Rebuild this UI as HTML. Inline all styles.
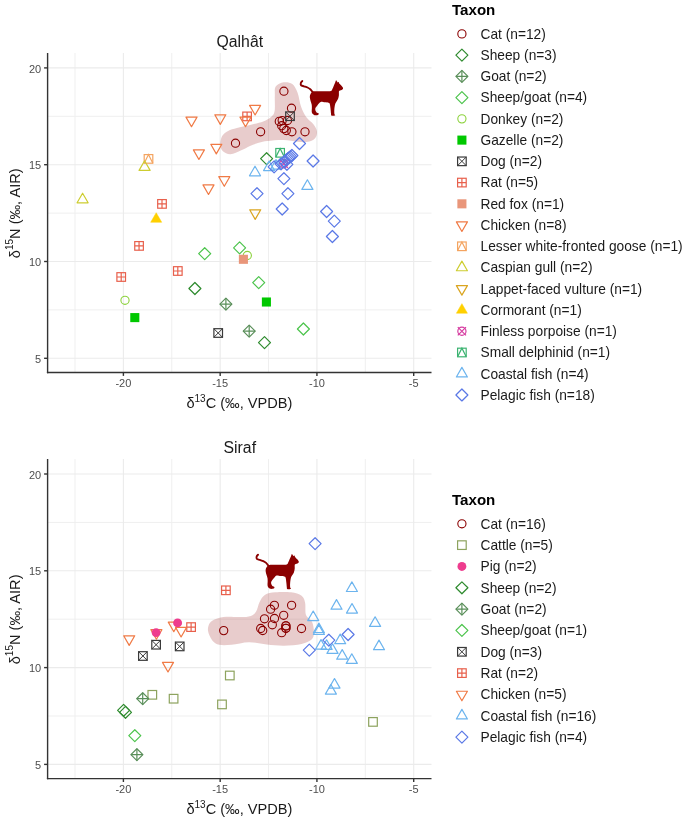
<!DOCTYPE html>
<html><head><meta charset="utf-8"><style>
html,body{margin:0;padding:0;background:#fff;}
svg{display:block;will-change:transform;}
text{font-family:"Liberation Sans",sans-serif;}
.tick{font-size:11px;fill:#4D4D4D;}
.ttl{font-size:15.8px;fill:#1A1A1A;}
.axt{font-size:14.6px;fill:#1A1A1A;}
.sup{font-size:10px;}
.lt{font-size:15.1px;font-weight:bold;fill:#000;}
.lx{font-size:13.75px;fill:#1A1A1A;}
</style></head><body>
<svg width="685" height="820" viewBox="0 0 685 820">
<line x1="75.02" y1="53.00" x2="75.02" y2="372.50" stroke="#EFEFEF" stroke-width="1"/>
<line x1="171.78" y1="53.00" x2="171.78" y2="372.50" stroke="#EFEFEF" stroke-width="1"/>
<line x1="268.55" y1="53.00" x2="268.55" y2="372.50" stroke="#EFEFEF" stroke-width="1"/>
<line x1="365.31" y1="53.00" x2="365.31" y2="372.50" stroke="#EFEFEF" stroke-width="1"/>
<line x1="47.60" y1="309.90" x2="431.50" y2="309.90" stroke="#EFEFEF" stroke-width="1"/>
<line x1="47.60" y1="213.10" x2="431.50" y2="213.10" stroke="#EFEFEF" stroke-width="1"/>
<line x1="47.60" y1="116.30" x2="431.50" y2="116.30" stroke="#EFEFEF" stroke-width="1"/>
<line x1="123.40" y1="53.00" x2="123.40" y2="372.50" stroke="#EBEBEB" stroke-width="1.1"/>
<line x1="220.17" y1="53.00" x2="220.17" y2="372.50" stroke="#EBEBEB" stroke-width="1.1"/>
<line x1="316.93" y1="53.00" x2="316.93" y2="372.50" stroke="#EBEBEB" stroke-width="1.1"/>
<line x1="413.70" y1="53.00" x2="413.70" y2="372.50" stroke="#EBEBEB" stroke-width="1.1"/>
<line x1="47.60" y1="358.30" x2="431.50" y2="358.30" stroke="#EBEBEB" stroke-width="1.1"/>
<line x1="47.60" y1="261.50" x2="431.50" y2="261.50" stroke="#EBEBEB" stroke-width="1.1"/>
<line x1="47.60" y1="164.70" x2="431.50" y2="164.70" stroke="#EBEBEB" stroke-width="1.1"/>
<line x1="47.60" y1="67.90" x2="431.50" y2="67.90" stroke="#EBEBEB" stroke-width="1.1"/>
<path d="M283.60 82.30C286.37 81.87 289.97 82.25 292.30 84.00C294.63 85.75 296.13 89.00 297.60 92.80C299.07 96.60 299.63 102.72 301.10 106.80C302.57 110.88 304.35 114.38 306.40 117.30C308.45 120.22 311.65 121.97 313.40 124.30C315.15 126.63 316.62 128.97 316.90 131.30C317.18 133.63 316.57 136.55 315.10 138.30C313.63 140.05 311.02 141.22 308.10 141.80C305.18 142.38 301.68 142.08 297.60 141.80C293.52 141.52 288.62 140.22 283.60 140.10C278.58 139.98 271.63 140.65 267.50 141.10C263.37 141.55 261.72 142.00 258.80 142.80C255.88 143.60 252.92 144.65 250.00 145.90C247.08 147.15 244.55 148.92 241.30 150.30C238.05 151.68 233.57 154.05 230.50 154.20C227.43 154.35 224.58 152.73 222.90 151.20C221.22 149.67 220.55 147.48 220.40 145.00C220.25 142.52 220.72 138.63 222.00 136.30C223.28 133.97 225.62 132.38 228.10 131.00C230.58 129.62 233.25 129.02 236.90 128.00C240.55 126.98 245.62 126.00 250.00 124.90C254.38 123.80 259.70 122.72 263.20 121.40C266.70 120.08 269.10 118.73 271.00 117.00C272.90 115.27 273.97 114.45 274.60 111.00C275.23 107.55 274.62 100.37 274.80 96.30C274.98 92.23 274.23 88.93 275.70 86.60C277.17 84.27 280.83 82.73 283.60 82.30Z" fill="#8B0000" fill-opacity="0.2"/>
<path d="M312.07 92.07C312.65 91.54 312.83 91.51 313.82 91.37C314.81 91.23 316.15 91.25 318.02 91.23C319.89 91.20 322.87 91.28 325.03 91.23C327.19 91.17 329.76 91.26 330.99 90.88C332.21 90.49 331.92 89.77 332.39 88.91C332.86 88.06 333.32 86.81 333.79 85.76C334.26 84.71 334.81 83.51 335.19 82.61C335.58 81.71 335.79 80.54 336.10 80.36C336.42 80.19 336.80 81.20 337.08 81.56C337.36 81.91 337.49 82.41 337.78 82.47C338.08 82.52 338.59 81.74 338.84 81.91C339.08 82.07 339.01 83.00 339.26 83.45C339.50 83.89 339.90 84.15 340.31 84.57C340.72 84.99 341.31 85.50 341.71 85.97C342.11 86.44 342.47 86.96 342.69 87.37C342.91 87.78 343.09 88.07 343.04 88.42C342.99 88.77 342.78 89.18 342.41 89.47C342.04 89.77 341.30 89.98 340.80 90.17C340.30 90.37 339.71 90.41 339.40 90.67C339.08 90.92 338.99 90.96 338.91 91.72C338.82 92.48 339.06 93.99 338.91 95.22C338.75 96.45 338.44 97.96 338.00 99.07C337.55 100.18 336.71 101.06 336.24 101.88C335.78 102.69 335.48 102.99 335.19 103.98C334.90 104.97 334.64 106.49 334.49 107.83C334.34 109.18 334.28 110.99 334.28 112.04C334.28 113.09 334.34 113.62 334.49 114.14C334.64 114.67 335.37 114.94 335.19 115.19C335.02 115.45 334.08 115.65 333.44 115.68C332.80 115.72 331.75 115.78 331.34 115.40C330.93 115.03 331.13 114.58 330.99 113.44C330.85 112.30 330.70 110.11 330.50 108.53C330.30 106.96 330.12 104.94 329.80 103.98C329.47 103.02 329.33 103.06 328.53 102.79C327.74 102.52 326.32 102.52 325.03 102.37C323.75 102.22 321.82 101.73 320.83 101.88C319.83 102.03 319.66 102.69 319.07 103.28C318.49 103.86 317.91 104.62 317.32 105.38C316.74 106.14 315.90 107.07 315.57 107.83C315.24 108.59 315.19 109.18 315.36 109.94C315.54 110.70 316.12 111.86 316.62 112.39C317.12 112.91 318.05 112.74 318.37 113.09C318.70 113.44 318.82 114.14 318.58 114.49C318.35 114.84 317.65 115.08 316.97 115.19C316.29 115.31 315.26 115.43 314.52 115.19C313.78 114.96 313.02 114.37 312.56 113.79C312.09 113.21 311.83 112.62 311.72 111.69C311.60 110.75 311.86 109.35 311.86 108.18C311.86 107.02 311.91 105.85 311.72 104.68C311.52 103.51 310.98 102.40 310.67 101.18C310.35 99.95 309.88 98.43 309.82 97.32C309.77 96.21 309.94 95.40 310.31 94.52C310.69 93.64 311.48 92.59 312.07 92.07Z" fill="#8B0000"/>
<path d="M302.26 81.06C302.02 81.38 301.05 82.26 300.85 82.96C300.66 83.66 300.54 84.71 301.06 85.27C301.59 85.83 302.93 85.95 304.01 86.32C305.08 86.69 306.46 87.02 307.51 87.51C308.56 88.00 309.56 88.62 310.31 89.26C311.07 89.91 311.58 90.67 312.07 91.37C312.56 92.07 313.06 93.12 313.26 93.47" fill="none" stroke="#8B0000" stroke-width="1.9" stroke-linecap="round"/>
<circle cx="283.90" cy="91.20" r="4.10" fill="none" stroke="#8B0000" stroke-width="1.1"/>
<circle cx="291.50" cy="108.20" r="4.10" fill="none" stroke="#8B0000" stroke-width="1.1"/>
<circle cx="260.60" cy="131.80" r="4.10" fill="none" stroke="#8B0000" stroke-width="1.1"/>
<circle cx="235.50" cy="143.20" r="4.10" fill="none" stroke="#8B0000" stroke-width="1.1"/>
<circle cx="305.00" cy="131.80" r="4.10" fill="none" stroke="#8B0000" stroke-width="1.1"/>
<circle cx="291.90" cy="131.80" r="4.10" fill="none" stroke="#8B0000" stroke-width="1.1"/>
<circle cx="279.30" cy="121.40" r="4.10" fill="none" stroke="#8B0000" stroke-width="1.1"/>
<circle cx="282.20" cy="120.60" r="4.10" fill="none" stroke="#8B0000" stroke-width="1.1"/>
<circle cx="287.50" cy="120.50" r="4.10" fill="none" stroke="#8B0000" stroke-width="1.1"/>
<circle cx="281.70" cy="125.70" r="4.10" fill="none" stroke="#8B0000" stroke-width="1.1"/>
<circle cx="283.80" cy="128.60" r="4.10" fill="none" stroke="#8B0000" stroke-width="1.1"/>
<circle cx="286.30" cy="130.50" r="4.10" fill="none" stroke="#8B0000" stroke-width="1.1"/>
<path d="M194.90 282.51L200.89 288.50L194.90 294.49L188.91 288.50Z" fill="none" stroke="#2E8B2E" stroke-width="1.2" stroke-linejoin="round"/>
<path d="M266.60 152.71L272.59 158.70L266.60 164.69L260.61 158.70Z" fill="none" stroke="#2E8B2E" stroke-width="1.2" stroke-linejoin="round"/>
<path d="M264.50 336.61L270.49 342.60L264.50 348.59L258.51 342.60Z" fill="none" stroke="#2E8B2E" stroke-width="1.2" stroke-linejoin="round"/>
<path d="M225.90 298.11L231.89 304.10L225.90 310.09L219.91 304.10Z" fill="none" stroke="#5A8F5A" stroke-width="1.2" stroke-linejoin="round"/><path d="M225.90 298.11V310.09M219.91 304.10H231.89" fill="none" stroke="#5A8F5A" stroke-width="1.2"/>
<path d="M249.20 325.11L255.19 331.10L249.20 337.09L243.21 331.10Z" fill="none" stroke="#5A8F5A" stroke-width="1.2" stroke-linejoin="round"/><path d="M249.20 325.11V337.09M243.21 331.10H255.19" fill="none" stroke="#5A8F5A" stroke-width="1.2"/>
<path d="M204.70 247.71L210.69 253.70L204.70 259.69L198.71 253.70Z" fill="none" stroke="#4CC44C" stroke-width="1.2" stroke-linejoin="round"/>
<path d="M239.60 241.91L245.59 247.90L239.60 253.89L233.61 247.90Z" fill="none" stroke="#4CC44C" stroke-width="1.2" stroke-linejoin="round"/>
<path d="M258.70 276.61L264.69 282.60L258.70 288.59L252.71 282.60Z" fill="none" stroke="#4CC44C" stroke-width="1.2" stroke-linejoin="round"/>
<path d="M303.40 323.01L309.39 329.00L303.40 334.99L297.41 329.00Z" fill="none" stroke="#4CC44C" stroke-width="1.2" stroke-linejoin="round"/>
<circle cx="125.00" cy="300.30" r="4.10" fill="none" stroke="#8CD23C" stroke-width="1.1"/>
<circle cx="247.30" cy="255.50" r="4.10" fill="none" stroke="#8CD23C" stroke-width="1.1"/>
<rect x="130.27" y="313.07" width="9.07" height="9.07" fill="#00C800"/>
<rect x="261.87" y="297.47" width="9.07" height="9.07" fill="#00C800"/>
<rect x="213.89" y="328.69" width="8.61" height="8.61" fill="none" stroke="#3A3A3A" stroke-width="1.2"/><path d="M213.89 328.69L222.50 337.31M222.50 328.69L213.89 337.31" fill="none" stroke="#3A3A3A" stroke-width="1.0"/>
<rect x="285.69" y="111.90" width="8.61" height="8.61" fill="none" stroke="#3A3A3A" stroke-width="1.2"/><path d="M285.69 111.90L294.31 120.50M294.31 111.90L285.69 120.50" fill="none" stroke="#3A3A3A" stroke-width="1.0"/>
<rect x="157.69" y="199.59" width="8.61" height="8.61" fill="none" stroke="#E8604C" stroke-width="1.2"/><path d="M162.00 199.59V208.21M157.69 203.90H166.31" fill="none" stroke="#E8604C" stroke-width="1.2"/>
<rect x="134.75" y="241.59" width="8.61" height="8.61" fill="none" stroke="#E8604C" stroke-width="1.2"/><path d="M139.05 241.59V250.21M134.75 245.90H143.36" fill="none" stroke="#E8604C" stroke-width="1.2"/>
<rect x="116.90" y="272.69" width="8.61" height="8.61" fill="none" stroke="#E8604C" stroke-width="1.2"/><path d="M121.20 272.69V281.31M116.90 277.00H125.50" fill="none" stroke="#E8604C" stroke-width="1.2"/>
<rect x="173.50" y="266.69" width="8.61" height="8.61" fill="none" stroke="#E8604C" stroke-width="1.2"/><path d="M177.80 266.69V275.31M173.50 271.00H182.11" fill="none" stroke="#E8604C" stroke-width="1.2"/>
<rect x="242.79" y="112.09" width="8.61" height="8.61" fill="none" stroke="#E8604C" stroke-width="1.2"/><path d="M247.10 112.09V120.71M242.79 116.40H251.41" fill="none" stroke="#E8604C" stroke-width="1.2"/>
<rect x="238.87" y="254.77" width="9.07" height="9.07" fill="#E9967A"/>
<path d="M191.50 126.68L197.02 117.11L185.98 117.11Z" fill="none" stroke="#F07A45" stroke-width="1.2" stroke-linejoin="round"/>
<path d="M220.30 124.38L225.82 114.81L214.78 114.81Z" fill="none" stroke="#F07A45" stroke-width="1.2" stroke-linejoin="round"/>
<path d="M255.10 114.98L260.62 105.41L249.58 105.41Z" fill="none" stroke="#F07A45" stroke-width="1.2" stroke-linejoin="round"/>
<path d="M245.50 126.68L251.02 117.11L239.98 117.11Z" fill="none" stroke="#F07A45" stroke-width="1.2" stroke-linejoin="round"/>
<path d="M216.30 153.88L221.82 144.31L210.78 144.31Z" fill="none" stroke="#F07A45" stroke-width="1.2" stroke-linejoin="round"/>
<path d="M198.90 159.48L204.42 149.91L193.38 149.91Z" fill="none" stroke="#F07A45" stroke-width="1.2" stroke-linejoin="round"/>
<path d="M224.30 186.28L229.82 176.71L218.78 176.71Z" fill="none" stroke="#F07A45" stroke-width="1.2" stroke-linejoin="round"/>
<path d="M208.50 194.48L214.02 184.91L202.98 184.91Z" fill="none" stroke="#F07A45" stroke-width="1.2" stroke-linejoin="round"/>
<rect x="144.19" y="154.59" width="8.61" height="8.61" fill="none" stroke="#F4A460" stroke-width="1.2"/><path d="M144.19 163.21L148.50 154.59L152.81 163.21" fill="none" stroke="#F4A460" stroke-width="1.2"/>
<path d="M82.60 193.22L88.12 202.79L77.08 202.79Z" fill="none" stroke="#CDCD30" stroke-width="1.2" stroke-linejoin="round"/>
<path d="M144.60 160.82L150.12 170.39L139.08 170.39Z" fill="none" stroke="#CDCD30" stroke-width="1.2" stroke-linejoin="round"/>
<path d="M255.20 219.38L260.72 209.81L249.68 209.81Z" fill="none" stroke="#DAA520" stroke-width="1.2" stroke-linejoin="round"/>
<path d="M156.20 212.72L161.72 222.29L150.68 222.29Z" fill="#FFD000" stroke="#FFD000" stroke-width="0.5" stroke-linejoin="round"/>
<rect x="275.80" y="148.50" width="8.61" height="8.61" fill="none" stroke="#3CB371" stroke-width="1.2"/><path d="M275.80 157.11L280.10 148.50L284.41 157.11" fill="none" stroke="#3CB371" stroke-width="1.2"/>
<circle cx="283.70" cy="163.70" r="4.10" fill="none" stroke="#D63CA0" stroke-width="1.2"/><path d="M279.60 159.60L287.80 167.80M287.80 159.60L279.60 167.80" fill="none" stroke="#D63CA0" stroke-width="1.2"/>
<path d="M255.00 166.22L260.52 175.79L249.48 175.79Z" fill="none" stroke="#6CB4EE" stroke-width="1.2" stroke-linejoin="round"/>
<path d="M269.10 161.02L274.62 170.59L263.58 170.59Z" fill="none" stroke="#6CB4EE" stroke-width="1.2" stroke-linejoin="round"/>
<path d="M307.40 179.82L312.92 189.39L301.88 189.39Z" fill="none" stroke="#6CB4EE" stroke-width="1.2" stroke-linejoin="round"/>
<path d="M276.00 159.62L281.52 169.19L270.48 169.19Z" fill="none" stroke="#6CB4EE" stroke-width="1.2" stroke-linejoin="round"/>
<path d="M257.00 187.71L262.99 193.70L257.00 199.69L251.01 193.70Z" fill="none" stroke="#5A78E6" stroke-width="1.2" stroke-linejoin="round"/>
<path d="M283.90 172.71L289.89 178.70L283.90 184.69L277.91 178.70Z" fill="none" stroke="#5A78E6" stroke-width="1.2" stroke-linejoin="round"/>
<path d="M282.20 203.01L288.19 209.00L282.20 214.99L276.21 209.00Z" fill="none" stroke="#5A78E6" stroke-width="1.2" stroke-linejoin="round"/>
<path d="M299.50 137.51L305.49 143.50L299.50 149.49L293.51 143.50Z" fill="none" stroke="#5A78E6" stroke-width="1.2" stroke-linejoin="round"/>
<path d="M313.10 155.01L319.09 161.00L313.10 166.99L307.11 161.00Z" fill="none" stroke="#5A78E6" stroke-width="1.2" stroke-linejoin="round"/>
<path d="M287.90 187.71L293.89 193.70L287.90 199.69L281.91 193.70Z" fill="none" stroke="#5A78E6" stroke-width="1.2" stroke-linejoin="round"/>
<path d="M326.60 205.51L332.59 211.50L326.60 217.49L320.61 211.50Z" fill="none" stroke="#5A78E6" stroke-width="1.2" stroke-linejoin="round"/>
<path d="M334.30 215.11L340.29 221.10L334.30 227.09L328.31 221.10Z" fill="none" stroke="#5A78E6" stroke-width="1.2" stroke-linejoin="round"/>
<path d="M332.40 230.51L338.39 236.50L332.40 242.49L326.41 236.50Z" fill="none" stroke="#5A78E6" stroke-width="1.2" stroke-linejoin="round"/>
<path d="M291.90 149.51L297.89 155.50L291.90 161.49L285.91 155.50Z" fill="none" stroke="#5A78E6" stroke-width="1.2" stroke-linejoin="round"/>
<path d="M290.50 150.61L296.49 156.60L290.50 162.59L284.51 156.60Z" fill="none" stroke="#5A78E6" stroke-width="1.2" stroke-linejoin="round"/>
<path d="M289.20 151.61L295.19 157.60L289.20 163.59L283.21 157.60Z" fill="none" stroke="#5A78E6" stroke-width="1.2" stroke-linejoin="round"/>
<path d="M287.90 152.61L293.89 158.60L287.90 164.59L281.91 158.60Z" fill="none" stroke="#5A78E6" stroke-width="1.2" stroke-linejoin="round"/>
<path d="M286.60 153.61L292.59 159.60L286.60 165.59L280.61 159.60Z" fill="none" stroke="#5A78E6" stroke-width="1.2" stroke-linejoin="round"/>
<path d="M284.50 155.51L290.49 161.50L284.50 167.49L278.51 161.50Z" fill="none" stroke="#5A78E6" stroke-width="1.2" stroke-linejoin="round"/>
<path d="M286.90 158.31L292.89 164.30L286.90 170.29L280.91 164.30Z" fill="none" stroke="#5A78E6" stroke-width="1.2" stroke-linejoin="round"/>
<path d="M281.00 157.81L286.99 163.80L281.00 169.79L275.01 163.80Z" fill="none" stroke="#5A78E6" stroke-width="1.2" stroke-linejoin="round"/>
<path d="M274.10 160.91L280.09 166.90L274.10 172.89L268.11 166.90Z" fill="none" stroke="#5A78E6" stroke-width="1.2" stroke-linejoin="round"/>
<line x1="47.60" y1="53.00" x2="47.60" y2="373.20" stroke="#333" stroke-width="1.4"/>
<line x1="46.90" y1="372.50" x2="431.50" y2="372.50" stroke="#333" stroke-width="1.4"/>
<line x1="44.1" y1="358.30" x2="47.60" y2="358.30" stroke="#333" stroke-width="1.4"/>
<text x="41.2" y="362.90" text-anchor="end" class="tick">5</text>
<line x1="44.1" y1="261.50" x2="47.60" y2="261.50" stroke="#333" stroke-width="1.4"/>
<text x="41.2" y="266.10" text-anchor="end" class="tick">10</text>
<line x1="44.1" y1="164.70" x2="47.60" y2="164.70" stroke="#333" stroke-width="1.4"/>
<text x="41.2" y="169.30" text-anchor="end" class="tick">15</text>
<line x1="44.1" y1="67.90" x2="47.60" y2="67.90" stroke="#333" stroke-width="1.4"/>
<text x="41.2" y="72.50" text-anchor="end" class="tick">20</text>
<line x1="123.40" y1="372.50" x2="123.40" y2="375.90" stroke="#333" stroke-width="1.4"/>
<text x="123.40" y="387.10" text-anchor="middle" class="tick">-20</text>
<line x1="220.17" y1="372.50" x2="220.17" y2="375.90" stroke="#333" stroke-width="1.4"/>
<text x="220.17" y="387.10" text-anchor="middle" class="tick">-15</text>
<line x1="316.93" y1="372.50" x2="316.93" y2="375.90" stroke="#333" stroke-width="1.4"/>
<text x="316.93" y="387.10" text-anchor="middle" class="tick">-10</text>
<line x1="413.70" y1="372.50" x2="413.70" y2="375.90" stroke="#333" stroke-width="1.4"/>
<text x="413.70" y="387.10" text-anchor="middle" class="tick">-5</text>
<text x="239.8" y="46.90" text-anchor="middle" class="ttl">Qalh&#226;t</text>
<text x="239.4" y="407.90" text-anchor="middle" class="axt">&#948;<tspan class="sup" dy="-6.2">13</tspan><tspan dy="6.2">C (&#8240;, VPDB)</tspan></text>
<text transform="translate(20.2 213.30) rotate(-90)" text-anchor="middle" class="axt">&#948;<tspan class="sup" dy="-6.8">15</tspan><tspan dy="6.8">N (&#8240;, AIR)</tspan></text>
<text x="452.0" y="15.10" class="lt">Taxon</text>
<circle cx="461.90" cy="33.90" r="4.10" fill="none" stroke="#8B0000" stroke-width="1.1"/>
<text x="480.5" y="38.70" class="lx">Cat (n=12)</text>
<path d="M461.90 49.15L467.89 55.14L461.90 61.13L455.91 55.14Z" fill="none" stroke="#2E8B2E" stroke-width="1.2" stroke-linejoin="round"/>
<text x="480.5" y="59.94" class="lx">Sheep (n=3)</text>
<path d="M461.90 70.39L467.89 76.38L461.90 82.37L455.91 76.38Z" fill="none" stroke="#5A8F5A" stroke-width="1.2" stroke-linejoin="round"/><path d="M461.90 70.39V82.37M455.91 76.38H467.89" fill="none" stroke="#5A8F5A" stroke-width="1.2"/>
<text x="480.5" y="81.18" class="lx">Goat (n=2)</text>
<path d="M461.90 91.63L467.89 97.62L461.90 103.61L455.91 97.62Z" fill="none" stroke="#4CC44C" stroke-width="1.2" stroke-linejoin="round"/>
<text x="480.5" y="102.42" class="lx">Sheep/goat (n=4)</text>
<circle cx="461.90" cy="118.86" r="4.10" fill="none" stroke="#8CD23C" stroke-width="1.1"/>
<text x="480.5" y="123.66" class="lx">Donkey (n=2)</text>
<rect x="457.37" y="135.57" width="9.07" height="9.07" fill="#00C800"/>
<text x="480.5" y="144.90" class="lx">Gazelle (n=2)</text>
<rect x="457.59" y="157.03" width="8.61" height="8.61" fill="none" stroke="#3A3A3A" stroke-width="1.2"/><path d="M457.59 157.03L466.20 165.65M466.20 157.03L457.59 165.65" fill="none" stroke="#3A3A3A" stroke-width="1.0"/>
<text x="480.5" y="166.14" class="lx">Dog (n=2)</text>
<rect x="457.59" y="178.27" width="8.61" height="8.61" fill="none" stroke="#E8604C" stroke-width="1.2"/><path d="M461.90 178.27V186.88M457.59 182.58H466.20" fill="none" stroke="#E8604C" stroke-width="1.2"/>
<text x="480.5" y="187.38" class="lx">Rat (n=5)</text>
<rect x="457.37" y="199.29" width="9.07" height="9.07" fill="#E9967A"/>
<text x="480.5" y="208.62" class="lx">Red fox (n=1)</text>
<path d="M461.90 231.44L467.42 221.87L456.38 221.87Z" fill="none" stroke="#F07A45" stroke-width="1.2" stroke-linejoin="round"/>
<text x="480.5" y="229.86" class="lx">Chicken (n=8)</text>
<rect x="457.59" y="241.99" width="8.61" height="8.61" fill="none" stroke="#F4A460" stroke-width="1.2"/><path d="M457.59 250.60L461.90 241.99L466.20 250.60" fill="none" stroke="#F4A460" stroke-width="1.2"/>
<text x="480.5" y="251.10" class="lx">Lesser white-fronted goose (n=1)</text>
<path d="M461.90 261.16L467.42 270.73L456.38 270.73Z" fill="none" stroke="#CDCD30" stroke-width="1.2" stroke-linejoin="round"/>
<text x="480.5" y="272.34" class="lx">Caspian gull (n=2)</text>
<path d="M461.90 295.16L467.42 285.59L456.38 285.59Z" fill="none" stroke="#DAA520" stroke-width="1.2" stroke-linejoin="round"/>
<text x="480.5" y="293.58" class="lx">Lappet-faced vulture (n=1)</text>
<path d="M461.90 303.64L467.42 313.21L456.38 313.21Z" fill="#FFD000" stroke="#FFD000" stroke-width="0.5" stroke-linejoin="round"/>
<text x="480.5" y="314.82" class="lx">Cormorant (n=1)</text>
<circle cx="461.90" cy="331.26" r="4.10" fill="none" stroke="#D63CA0" stroke-width="1.2"/><path d="M457.80 327.16L466.00 335.36M466.00 327.16L457.80 335.36" fill="none" stroke="#D63CA0" stroke-width="1.2"/>
<text x="480.5" y="336.06" class="lx">Finless porpoise (n=1)</text>
<rect x="457.59" y="348.19" width="8.61" height="8.61" fill="none" stroke="#3CB371" stroke-width="1.2"/><path d="M457.59 356.80L461.90 348.19L466.20 356.80" fill="none" stroke="#3CB371" stroke-width="1.2"/>
<text x="480.5" y="357.30" class="lx">Small delphinid (n=1)</text>
<path d="M461.90 367.36L467.42 376.93L456.38 376.93Z" fill="none" stroke="#6CB4EE" stroke-width="1.2" stroke-linejoin="round"/>
<text x="480.5" y="378.54" class="lx">Coastal fish (n=4)</text>
<path d="M461.90 388.99L467.89 394.98L461.90 400.97L455.91 394.98Z" fill="none" stroke="#5A78E6" stroke-width="1.2" stroke-linejoin="round"/>
<text x="480.5" y="399.78" class="lx">Pelagic fish (n=18)</text>
<line x1="75.02" y1="459.10" x2="75.02" y2="778.60" stroke="#EFEFEF" stroke-width="1"/>
<line x1="171.78" y1="459.10" x2="171.78" y2="778.60" stroke="#EFEFEF" stroke-width="1"/>
<line x1="268.55" y1="459.10" x2="268.55" y2="778.60" stroke="#EFEFEF" stroke-width="1"/>
<line x1="365.31" y1="459.10" x2="365.31" y2="778.60" stroke="#EFEFEF" stroke-width="1"/>
<line x1="47.60" y1="716.00" x2="431.50" y2="716.00" stroke="#EFEFEF" stroke-width="1"/>
<line x1="47.60" y1="619.20" x2="431.50" y2="619.20" stroke="#EFEFEF" stroke-width="1"/>
<line x1="47.60" y1="522.40" x2="431.50" y2="522.40" stroke="#EFEFEF" stroke-width="1"/>
<line x1="123.40" y1="459.10" x2="123.40" y2="778.60" stroke="#EBEBEB" stroke-width="1.1"/>
<line x1="220.17" y1="459.10" x2="220.17" y2="778.60" stroke="#EBEBEB" stroke-width="1.1"/>
<line x1="316.93" y1="459.10" x2="316.93" y2="778.60" stroke="#EBEBEB" stroke-width="1.1"/>
<line x1="413.70" y1="459.10" x2="413.70" y2="778.60" stroke="#EBEBEB" stroke-width="1.1"/>
<line x1="47.60" y1="764.40" x2="431.50" y2="764.40" stroke="#EBEBEB" stroke-width="1.1"/>
<line x1="47.60" y1="667.60" x2="431.50" y2="667.60" stroke="#EBEBEB" stroke-width="1.1"/>
<line x1="47.60" y1="570.80" x2="431.50" y2="570.80" stroke="#EBEBEB" stroke-width="1.1"/>
<line x1="47.60" y1="474.00" x2="431.50" y2="474.00" stroke="#EBEBEB" stroke-width="1.1"/>
<path d="M208.00 630.80C207.58 627.88 208.50 624.88 209.80 622.90C211.10 620.92 213.05 619.92 215.80 618.90C218.55 617.88 222.22 617.10 226.30 616.80C230.38 616.50 236.22 617.25 240.30 617.10C244.38 616.95 248.17 616.83 250.80 615.90C253.43 614.97 254.63 613.83 256.10 611.50C257.57 609.17 258.15 604.67 259.60 601.90C261.05 599.13 262.18 596.50 264.80 594.90C267.42 593.30 270.92 592.73 275.30 592.30C279.68 591.87 286.72 591.72 291.10 592.30C295.48 592.88 299.27 594.05 301.60 595.80C303.93 597.55 304.37 599.60 305.10 602.80C305.83 606.00 304.83 611.80 306.00 615.00C307.17 618.20 310.78 619.07 312.10 622.00C313.42 624.93 313.98 629.67 313.90 632.60C313.82 635.53 313.65 637.72 311.60 639.60C309.55 641.48 306.18 642.88 301.60 643.90C297.02 644.92 289.93 645.60 284.10 645.70C278.27 645.80 272.43 645.08 266.60 644.50C260.77 643.92 254.95 642.15 249.10 642.20C243.25 642.25 236.47 644.37 231.50 644.80C226.53 645.23 222.50 645.53 219.30 644.80C216.10 644.07 214.18 642.73 212.30 640.40C210.42 638.07 208.42 633.72 208.00 630.80Z" fill="#8B0000" fill-opacity="0.2"/>
<path d="M267.87 565.67C268.45 565.14 268.63 565.11 269.62 564.97C270.61 564.83 271.95 564.85 273.82 564.83C275.69 564.80 278.67 564.88 280.83 564.83C282.99 564.77 285.56 564.86 286.79 564.48C288.01 564.09 287.72 563.37 288.19 562.51C288.66 561.66 289.12 560.41 289.59 559.36C290.06 558.31 290.61 557.11 290.99 556.21C291.38 555.31 291.59 554.14 291.90 553.96C292.22 553.79 292.60 554.80 292.88 555.16C293.16 555.51 293.29 556.01 293.58 556.07C293.88 556.12 294.39 555.34 294.64 555.51C294.88 555.67 294.81 556.60 295.06 557.05C295.30 557.49 295.70 557.75 296.11 558.17C296.52 558.59 297.11 559.10 297.51 559.57C297.91 560.04 298.27 560.56 298.49 560.97C298.71 561.38 298.89 561.67 298.84 562.02C298.79 562.37 298.58 562.78 298.21 563.07C297.84 563.37 297.10 563.58 296.60 563.77C296.10 563.97 295.51 564.01 295.20 564.27C294.88 564.52 294.79 564.56 294.71 565.32C294.62 566.08 294.86 567.59 294.71 568.82C294.55 570.05 294.24 571.56 293.80 572.67C293.35 573.78 292.51 574.66 292.04 575.48C291.58 576.29 291.28 576.59 290.99 577.58C290.70 578.57 290.44 580.09 290.29 581.43C290.14 582.78 290.08 584.59 290.08 585.64C290.08 586.69 290.14 587.22 290.29 587.74C290.44 588.27 291.17 588.54 290.99 588.79C290.82 589.05 289.88 589.25 289.24 589.28C288.60 589.32 287.55 589.38 287.14 589.00C286.73 588.63 286.93 588.18 286.79 587.04C286.65 585.90 286.50 583.71 286.30 582.13C286.10 580.56 285.92 578.54 285.60 577.58C285.27 576.62 285.13 576.66 284.33 576.39C283.54 576.12 282.12 576.12 280.83 575.97C279.55 575.82 277.62 575.33 276.63 575.48C275.63 575.63 275.46 576.29 274.87 576.88C274.29 577.46 273.71 578.22 273.12 578.98C272.54 579.74 271.70 580.67 271.37 581.43C271.04 582.19 270.99 582.78 271.16 583.54C271.34 584.30 271.92 585.46 272.42 585.99C272.92 586.51 273.85 586.34 274.17 586.69C274.50 587.04 274.62 587.74 274.38 588.09C274.15 588.44 273.45 588.68 272.77 588.79C272.09 588.91 271.06 589.03 270.32 588.79C269.58 588.56 268.82 587.97 268.36 587.39C267.89 586.81 267.63 586.22 267.52 585.29C267.40 584.35 267.66 582.95 267.66 581.78C267.66 580.62 267.71 579.45 267.52 578.28C267.32 577.11 266.78 576.00 266.47 574.78C266.15 573.55 265.68 572.03 265.62 570.92C265.57 569.81 265.74 569.00 266.11 568.12C266.49 567.24 267.28 566.19 267.87 565.67Z" fill="#8B0000"/>
<path d="M258.06 554.66C257.82 554.98 256.85 555.86 256.65 556.56C256.46 557.26 256.34 558.31 256.86 558.87C257.39 559.43 258.73 559.55 259.81 559.92C260.88 560.29 262.26 560.62 263.31 561.11C264.36 561.60 265.36 562.22 266.11 562.86C266.87 563.51 267.38 564.27 267.87 564.97C268.36 565.67 268.86 566.72 269.06 567.07" fill="none" stroke="#8B0000" stroke-width="1.9" stroke-linecap="round"/>
<circle cx="223.70" cy="630.60" r="4.10" fill="none" stroke="#8B0000" stroke-width="1.1"/>
<circle cx="274.40" cy="605.30" r="4.10" fill="none" stroke="#8B0000" stroke-width="1.1"/>
<circle cx="270.60" cy="609.20" r="4.10" fill="none" stroke="#8B0000" stroke-width="1.1"/>
<circle cx="291.60" cy="605.30" r="4.10" fill="none" stroke="#8B0000" stroke-width="1.1"/>
<circle cx="283.70" cy="615.30" r="4.10" fill="none" stroke="#8B0000" stroke-width="1.1"/>
<circle cx="264.50" cy="618.80" r="4.10" fill="none" stroke="#8B0000" stroke-width="1.1"/>
<circle cx="274.50" cy="618.50" r="4.10" fill="none" stroke="#8B0000" stroke-width="1.1"/>
<circle cx="272.30" cy="624.80" r="4.10" fill="none" stroke="#8B0000" stroke-width="1.1"/>
<circle cx="260.70" cy="628.50" r="4.10" fill="none" stroke="#8B0000" stroke-width="1.1"/>
<circle cx="262.70" cy="630.50" r="4.10" fill="none" stroke="#8B0000" stroke-width="1.1"/>
<circle cx="285.90" cy="625.90" r="4.10" fill="none" stroke="#8B0000" stroke-width="1.1"/>
<circle cx="285.90" cy="628.30" r="4.10" fill="none" stroke="#8B0000" stroke-width="1.1"/>
<circle cx="281.70" cy="632.70" r="4.10" fill="none" stroke="#8B0000" stroke-width="1.1"/>
<circle cx="301.50" cy="628.50" r="4.10" fill="none" stroke="#8B0000" stroke-width="1.1"/>
<circle cx="285.90" cy="625.90" r="4.10" fill="none" stroke="#8B0000" stroke-width="1.1"/>
<circle cx="285.90" cy="628.30" r="4.10" fill="none" stroke="#8B0000" stroke-width="1.1"/>
<rect x="225.50" y="671.20" width="8.61" height="8.61" fill="none" stroke="#8DA35E" stroke-width="1.2"/>
<rect x="148.00" y="690.50" width="8.61" height="8.61" fill="none" stroke="#8DA35E" stroke-width="1.2"/>
<rect x="169.29" y="694.40" width="8.61" height="8.61" fill="none" stroke="#8DA35E" stroke-width="1.2"/>
<rect x="217.69" y="700.10" width="8.61" height="8.61" fill="none" stroke="#8DA35E" stroke-width="1.2"/>
<rect x="368.69" y="717.60" width="8.61" height="8.61" fill="none" stroke="#8DA35E" stroke-width="1.2"/>
<path d="M123.60 704.31L129.59 710.30L123.60 716.29L117.61 710.30Z" fill="none" stroke="#2E8B2E" stroke-width="1.2" stroke-linejoin="round"/>
<path d="M125.50 706.31L131.49 712.30L125.50 718.29L119.51 712.30Z" fill="none" stroke="#2E8B2E" stroke-width="1.2" stroke-linejoin="round"/>
<path d="M142.70 692.71L148.69 698.70L142.70 704.69L136.71 698.70Z" fill="none" stroke="#5A8F5A" stroke-width="1.2" stroke-linejoin="round"/><path d="M142.70 692.71V704.69M136.71 698.70H148.69" fill="none" stroke="#5A8F5A" stroke-width="1.2"/>
<path d="M136.90 748.71L142.89 754.70L136.90 760.69L130.91 754.70Z" fill="none" stroke="#5A8F5A" stroke-width="1.2" stroke-linejoin="round"/><path d="M136.90 748.71V760.69M130.91 754.70H142.89" fill="none" stroke="#5A8F5A" stroke-width="1.2"/>
<path d="M134.80 729.71L140.79 735.70L134.80 741.69L128.81 735.70Z" fill="none" stroke="#4CC44C" stroke-width="1.2" stroke-linejoin="round"/>
<rect x="151.79" y="640.40" width="8.61" height="8.61" fill="none" stroke="#3A3A3A" stroke-width="1.2"/><path d="M151.79 640.40L160.41 649.00M160.41 640.40L151.79 649.00" fill="none" stroke="#3A3A3A" stroke-width="1.0"/>
<rect x="138.59" y="651.70" width="8.61" height="8.61" fill="none" stroke="#3A3A3A" stroke-width="1.2"/><path d="M138.59 651.70L147.21 660.30M147.21 651.70L138.59 660.30" fill="none" stroke="#3A3A3A" stroke-width="1.0"/>
<rect x="175.39" y="642.10" width="8.61" height="8.61" fill="none" stroke="#3A3A3A" stroke-width="1.2"/><path d="M175.39 642.10L184.00 650.70M184.00 642.10L175.39 650.70" fill="none" stroke="#3A3A3A" stroke-width="1.0"/>
<rect x="186.79" y="622.80" width="8.61" height="8.61" fill="none" stroke="#E8604C" stroke-width="1.2"/><path d="M191.10 622.80V631.40M186.79 627.10H195.41" fill="none" stroke="#E8604C" stroke-width="1.2"/>
<rect x="221.59" y="586.00" width="8.61" height="8.61" fill="none" stroke="#E8604C" stroke-width="1.2"/><path d="M225.90 586.00V594.60M221.59 590.30H230.21" fill="none" stroke="#E8604C" stroke-width="1.2"/>
<path d="M129.20 645.38L134.72 635.81L123.68 635.81Z" fill="none" stroke="#F07A45" stroke-width="1.2" stroke-linejoin="round"/>
<path d="M156.40 639.28L161.92 629.71L150.88 629.71Z" fill="none" stroke="#F07A45" stroke-width="1.2" stroke-linejoin="round"/>
<path d="M173.80 631.68L179.32 622.11L168.28 622.11Z" fill="none" stroke="#F07A45" stroke-width="1.2" stroke-linejoin="round"/>
<path d="M181.10 636.98L186.62 627.41L175.58 627.41Z" fill="none" stroke="#F07A45" stroke-width="1.2" stroke-linejoin="round"/>
<path d="M168.00 671.98L173.52 662.41L162.48 662.41Z" fill="none" stroke="#F07A45" stroke-width="1.2" stroke-linejoin="round"/>
<circle cx="156.10" cy="632.60" r="4.45" fill="#EE3C8E"/>
<circle cx="177.60" cy="622.90" r="4.45" fill="#EE3C8E"/>
<path d="M351.90 581.92L357.42 591.49L346.38 591.49Z" fill="none" stroke="#6CB4EE" stroke-width="1.2" stroke-linejoin="round"/>
<path d="M336.50 599.62L342.02 609.19L330.98 609.19Z" fill="none" stroke="#6CB4EE" stroke-width="1.2" stroke-linejoin="round"/>
<path d="M352.00 603.52L357.52 613.09L346.48 613.09Z" fill="none" stroke="#6CB4EE" stroke-width="1.2" stroke-linejoin="round"/>
<path d="M313.20 611.02L318.72 620.59L307.68 620.59Z" fill="none" stroke="#6CB4EE" stroke-width="1.2" stroke-linejoin="round"/>
<path d="M375.10 616.82L380.62 626.39L369.58 626.39Z" fill="none" stroke="#6CB4EE" stroke-width="1.2" stroke-linejoin="round"/>
<path d="M318.90 623.12L324.42 632.69L313.38 632.69Z" fill="none" stroke="#6CB4EE" stroke-width="1.2" stroke-linejoin="round"/>
<path d="M318.90 624.92L324.42 634.49L313.38 634.49Z" fill="none" stroke="#6CB4EE" stroke-width="1.2" stroke-linejoin="round"/>
<path d="M340.20 634.12L345.72 643.69L334.68 643.69Z" fill="none" stroke="#6CB4EE" stroke-width="1.2" stroke-linejoin="round"/>
<path d="M321.00 639.62L326.52 649.19L315.48 649.19Z" fill="none" stroke="#6CB4EE" stroke-width="1.2" stroke-linejoin="round"/>
<path d="M326.60 639.82L332.12 649.39L321.08 649.39Z" fill="none" stroke="#6CB4EE" stroke-width="1.2" stroke-linejoin="round"/>
<path d="M332.50 643.82L338.02 653.39L326.98 653.39Z" fill="none" stroke="#6CB4EE" stroke-width="1.2" stroke-linejoin="round"/>
<path d="M379.00 640.12L384.52 649.69L373.48 649.69Z" fill="none" stroke="#6CB4EE" stroke-width="1.2" stroke-linejoin="round"/>
<path d="M342.20 649.62L347.72 659.19L336.68 659.19Z" fill="none" stroke="#6CB4EE" stroke-width="1.2" stroke-linejoin="round"/>
<path d="M351.80 653.82L357.32 663.39L346.28 663.39Z" fill="none" stroke="#6CB4EE" stroke-width="1.2" stroke-linejoin="round"/>
<path d="M334.50 678.52L340.02 688.09L328.98 688.09Z" fill="none" stroke="#6CB4EE" stroke-width="1.2" stroke-linejoin="round"/>
<path d="M330.90 684.52L336.42 694.09L325.38 694.09Z" fill="none" stroke="#6CB4EE" stroke-width="1.2" stroke-linejoin="round"/>
<path d="M315.10 537.71L321.09 543.70L315.10 549.69L309.11 543.70Z" fill="none" stroke="#5A78E6" stroke-width="1.2" stroke-linejoin="round"/>
<path d="M348.10 628.51L354.09 634.50L348.10 640.49L342.11 634.50Z" fill="none" stroke="#5A78E6" stroke-width="1.2" stroke-linejoin="round"/>
<path d="M328.80 634.21L334.79 640.20L328.80 646.19L322.81 640.20Z" fill="none" stroke="#5A78E6" stroke-width="1.2" stroke-linejoin="round"/>
<path d="M309.30 644.11L315.29 650.10L309.30 656.09L303.31 650.10Z" fill="none" stroke="#5A78E6" stroke-width="1.2" stroke-linejoin="round"/>
<line x1="47.60" y1="459.10" x2="47.60" y2="779.30" stroke="#333" stroke-width="1.4"/>
<line x1="46.90" y1="778.60" x2="431.50" y2="778.60" stroke="#333" stroke-width="1.4"/>
<line x1="44.1" y1="764.40" x2="47.60" y2="764.40" stroke="#333" stroke-width="1.4"/>
<text x="41.2" y="769.00" text-anchor="end" class="tick">5</text>
<line x1="44.1" y1="667.60" x2="47.60" y2="667.60" stroke="#333" stroke-width="1.4"/>
<text x="41.2" y="672.20" text-anchor="end" class="tick">10</text>
<line x1="44.1" y1="570.80" x2="47.60" y2="570.80" stroke="#333" stroke-width="1.4"/>
<text x="41.2" y="575.40" text-anchor="end" class="tick">15</text>
<line x1="44.1" y1="474.00" x2="47.60" y2="474.00" stroke="#333" stroke-width="1.4"/>
<text x="41.2" y="478.60" text-anchor="end" class="tick">20</text>
<line x1="123.40" y1="778.60" x2="123.40" y2="782.00" stroke="#333" stroke-width="1.4"/>
<text x="123.40" y="793.20" text-anchor="middle" class="tick">-20</text>
<line x1="220.17" y1="778.60" x2="220.17" y2="782.00" stroke="#333" stroke-width="1.4"/>
<text x="220.17" y="793.20" text-anchor="middle" class="tick">-15</text>
<line x1="316.93" y1="778.60" x2="316.93" y2="782.00" stroke="#333" stroke-width="1.4"/>
<text x="316.93" y="793.20" text-anchor="middle" class="tick">-10</text>
<line x1="413.70" y1="778.60" x2="413.70" y2="782.00" stroke="#333" stroke-width="1.4"/>
<text x="413.70" y="793.20" text-anchor="middle" class="tick">-5</text>
<text x="239.8" y="453.00" text-anchor="middle" class="ttl">Siraf</text>
<text x="239.4" y="814.00" text-anchor="middle" class="axt">&#948;<tspan class="sup" dy="-6.2">13</tspan><tspan dy="6.2">C (&#8240;, VPDB)</tspan></text>
<text transform="translate(20.2 619.40) rotate(-90)" text-anchor="middle" class="axt">&#948;<tspan class="sup" dy="-6.8">15</tspan><tspan dy="6.8">N (&#8240;, AIR)</tspan></text>
<text x="452.0" y="505.00" class="lt">Taxon</text>
<circle cx="461.90" cy="523.80" r="4.10" fill="none" stroke="#8B0000" stroke-width="1.1"/>
<text x="480.5" y="528.60" class="lx">Cat (n=16)</text>
<rect x="457.59" y="540.83" width="8.61" height="8.61" fill="none" stroke="#8DA35E" stroke-width="1.2"/>
<text x="480.5" y="549.93" class="lx">Cattle (n=5)</text>
<circle cx="461.90" cy="566.46" r="4.45" fill="#EE3C8E"/>
<text x="480.5" y="571.26" class="lx">Pig (n=2)</text>
<path d="M461.90 581.80L467.89 587.79L461.90 593.78L455.91 587.79Z" fill="none" stroke="#2E8B2E" stroke-width="1.2" stroke-linejoin="round"/>
<text x="480.5" y="592.59" class="lx">Sheep (n=2)</text>
<path d="M461.90 603.13L467.89 609.12L461.90 615.11L455.91 609.12Z" fill="none" stroke="#5A8F5A" stroke-width="1.2" stroke-linejoin="round"/><path d="M461.90 603.13V615.11M455.91 609.12H467.89" fill="none" stroke="#5A8F5A" stroke-width="1.2"/>
<text x="480.5" y="613.92" class="lx">Goat (n=2)</text>
<path d="M461.90 624.46L467.89 630.45L461.90 636.44L455.91 630.45Z" fill="none" stroke="#4CC44C" stroke-width="1.2" stroke-linejoin="round"/>
<text x="480.5" y="635.25" class="lx">Sheep/goat (n=1)</text>
<rect x="457.59" y="647.48" width="8.61" height="8.61" fill="none" stroke="#3A3A3A" stroke-width="1.2"/><path d="M457.59 647.48L466.20 656.08M466.20 647.48L457.59 656.08" fill="none" stroke="#3A3A3A" stroke-width="1.0"/>
<text x="480.5" y="656.58" class="lx">Dog (n=3)</text>
<rect x="457.59" y="668.80" width="8.61" height="8.61" fill="none" stroke="#E8604C" stroke-width="1.2"/><path d="M461.90 668.80V677.41M457.59 673.11H466.20" fill="none" stroke="#E8604C" stroke-width="1.2"/>
<text x="480.5" y="677.91" class="lx">Rat (n=2)</text>
<path d="M461.90 700.82L467.42 691.25L456.38 691.25Z" fill="none" stroke="#F07A45" stroke-width="1.2" stroke-linejoin="round"/>
<text x="480.5" y="699.24" class="lx">Chicken (n=5)</text>
<path d="M461.90 709.39L467.42 718.96L456.38 718.96Z" fill="none" stroke="#6CB4EE" stroke-width="1.2" stroke-linejoin="round"/>
<text x="480.5" y="720.57" class="lx">Coastal fish (n=16)</text>
<path d="M461.90 731.11L467.89 737.10L461.90 743.09L455.91 737.10Z" fill="none" stroke="#5A78E6" stroke-width="1.2" stroke-linejoin="round"/>
<text x="480.5" y="741.90" class="lx">Pelagic fish (n=4)</text>
</svg>
</body></html>
